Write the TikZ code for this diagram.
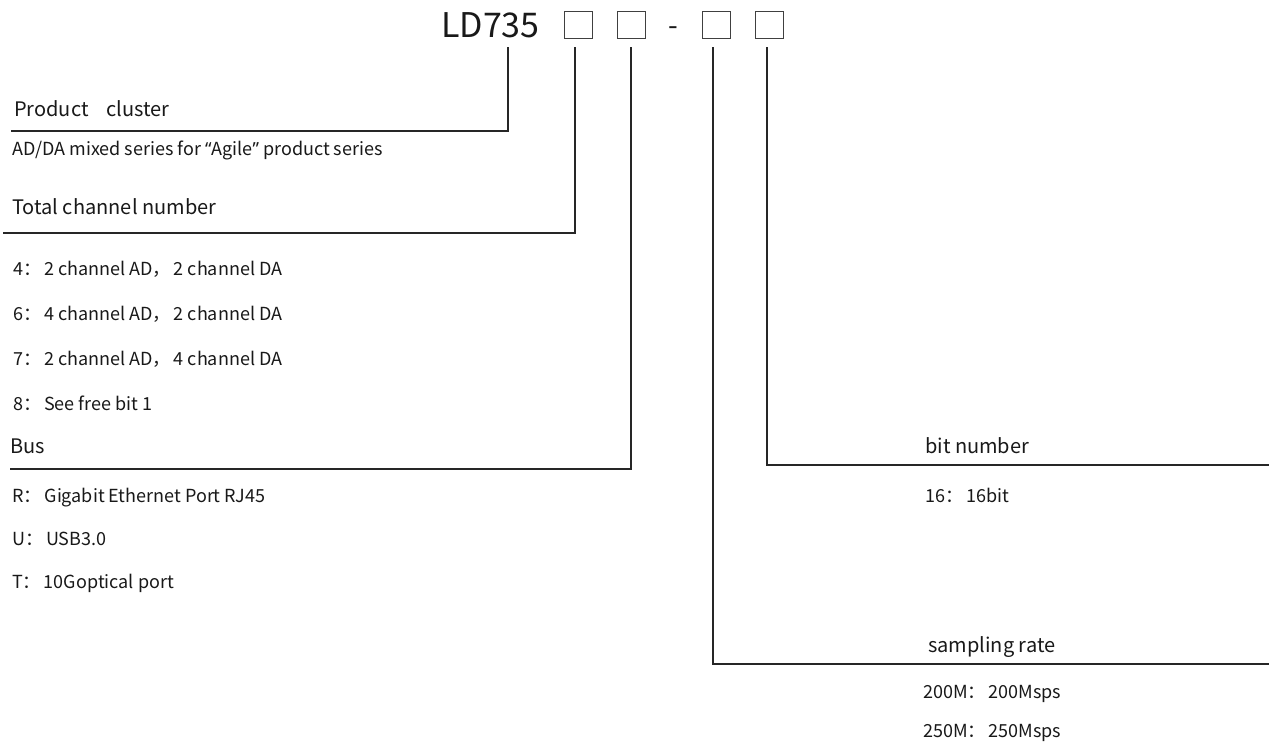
\documentclass[tikz,border=0pt]{standalone}
\usepackage{fontspec}
\setmainfont{Noto Sans CJK SC}
\newfontfamily\latq{Noto Sans}
\newcommand{\cc}{：\hspace{3pt}}
\begin{document}
\begin{tikzpicture}[x=1pt,y=-1pt,
  conn/.style={line width=2pt,draw=black!85,line cap=rect},
  codebox/.style={draw=black!75,line width=0.9pt,minimum width=28pt,minimum height=27pt,inner sep=0pt},
  head/.style={anchor=base west,inner sep=0pt,font=\fontsize{20}{22}\selectfont,text=black!90},
  item/.style={anchor=base west,inner sep=0pt,font=\fontsize{18}{20}\selectfont,text=black!90}]
\useasboundingbox (0,0) rectangle (1276,751);
\fill[white] (0,0) rectangle (1276,751);
% title
\node[anchor=base west,inner sep=0pt,font=\fontsize{34}{38}\selectfont,text=black!90] (ld) at (441,38) {LD735};
\node[codebox] (b1) at (578,25) {};
\node[codebox] (b2) at (631.5,25) {};
\node[anchor=base,inner sep=0pt,font=\fontsize{28}{30}\selectfont,text=black!90] (dash) at (673,36) {-};
\node[codebox] (b3) at (716,25) {};
\node[codebox] (b4) at (769,25) {};
% tick start points
\coordinate (t1) at (508,48);
\coordinate (t2) at (575,48);
\coordinate (t3) at (631,48);
\coordinate (t4) at (713,48);
\coordinate (t5) at (767,48);
% line ends
\coordinate (e1) at (12,131);
\coordinate (e2) at (4,233);
\coordinate (e3) at (11,469);
\coordinate (e4) at (1268,664);
\coordinate (e5) at (1268,465);
\draw[conn] (t1) |- (e1);
\draw[conn] (t2) |- (e2);
\draw[conn] (t3) |- (e3);
\draw[conn] (t4) |- (e4);
\draw[conn] (t5) |- (e5);
% left texts
\node[head] (pc) at (14,117) {Product\hspace{0.9em}cluster};
\node[item] (pcd) at (12,156) {AD/DA mixed series for {\latq “}Agile{\latq ”} product series};
\node[head] (tc) at (12,215) {Total channel number};
\node[item] (tc4) at (13,275) {4\cc 2 channel AD，\hspace{3pt}2 channel DA};
\node[item] (tc6) at (13,320) {6\cc 4 channel AD，\hspace{3pt}2 channel DA};
\node[item] (tc7) at (13,365) {7\cc 2 channel AD，\hspace{3pt}4 channel DA};
\node[item] (tc8) at (13,410) {8\cc See free bit 1};
\node[head] (bus) at (10,453) {Bus};
\node[item] (busr) at (12,502) {R\cc Gigabit Ethernet Port RJ45};
\node[item] (busu) at (12,545) {U\cc USB3.0};
\node[item] (bust) at (12,588) {T\cc 10Goptical port};
% right texts
\node[head] (bn) at (925,453) {bit number};
\node[item] (bn16) at (925,502) {16\cc 16bit};
\node[head] (sr) at (928,652) {sampling rate};
\node[item] (sr200) at (923,698) {200M\cc 200Msps};
\node[item] (sr250) at (923,737) {250M\cc 250Msps};
\end{tikzpicture}
\end{document}
